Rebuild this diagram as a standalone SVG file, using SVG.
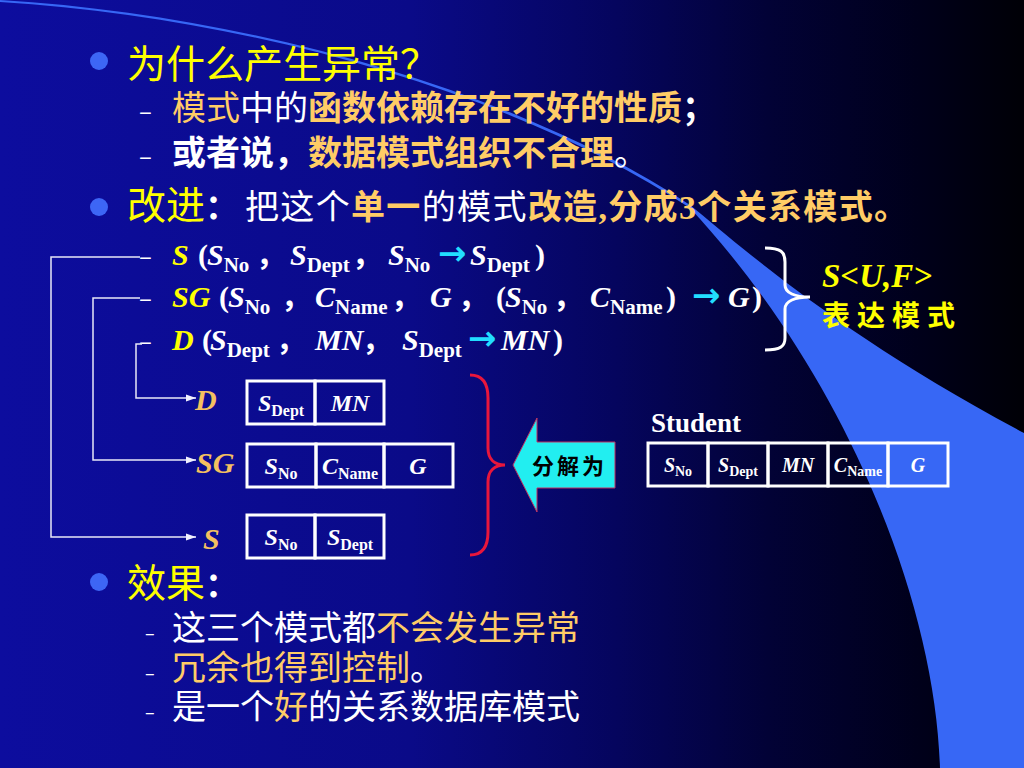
<svg xmlns="http://www.w3.org/2000/svg" width="1024" height="768" viewBox="0 0 1024 768">
<defs>
<linearGradient id="bg" x1="0" y1="0" x2="1" y2="0">
<stop offset="0" stop-color="#0d0d9e"/>
<stop offset="0.4" stop-color="#0a0a88"/>
<stop offset="0.6" stop-color="#05055e"/>
<stop offset="0.75" stop-color="#020236"/>
<stop offset="0.9" stop-color="#00001a"/>
<stop offset="1" stop-color="#000006"/>
</linearGradient>
<marker id="ah" viewBox="0 0 10 8" refX="10" refY="4" markerWidth="10" markerHeight="8" markerUnits="userSpaceOnUse" orient="auto">
<path d="M0,0.5 L10,4 L0,7.5 z" fill="#f0f0ff"/>
</marker>
<style>
.cjk{font-family:"Noto Sans CJK SC","Noto Sans",sans-serif}
.ser{font-family:"Liberation Serif","Noto Sans CJK SC",serif}
.y{fill:#ffff00}.o{fill:#ffcc66}.w{fill:#ffffff}.lab{fill:#f4c060}
.cy{fill:#22ddff;font-family:"DejaVu Sans",sans-serif;font-weight:bold;font-style:normal}
.b{font-weight:bold}.i{font-style:italic}
.bul{fill:#3d66f5}
.cell{fill:none;stroke:#ffffff;stroke-width:3}
.conn{fill:none;stroke:#e8e8f8;stroke-width:1.5}
.brace{fill:none;stroke-width:3}
</style>
</defs>
<rect x="0" y="0" width="1024" height="768" fill="url(#bg)"/>
<path d="M0,0 C250,15 520,92 690,205 C745,250 840,335 1024,433 L1024,768 L940,768 C935,600 845,375 690,208 C520,95 250,17 0,2 Z" fill="#3767f5"/>

<g id="q1">
<circle class="bul" cx="99" cy="61" r="9"/>
<text x="127" y="78" class="cjk y" font-size="39">为什么产生异常？</text>
</g>
<g id="q1a">
<text x="139" y="120" class="cjk w" font-size="24">–</text>
<text x="172" y="120" class="cjk" font-size="34"><tspan class="o">模式</tspan><tspan class="w">中的</tspan><tspan class="o b">函数依赖存在不好的性质</tspan><tspan class="w b">；</tspan></text>
</g>
<g id="q1b">
<text x="139" y="165" class="cjk w" font-size="24">–</text>
<text x="172" y="165" class="cjk" font-size="34"><tspan class="w b">或者说，</tspan><tspan class="o b">数据模式组织不合理</tspan><tspan class="w">。</tspan></text>
</g>
<g id="improve">
<circle class="bul" cx="99" cy="207" r="9"/>
<text y="219" class="cjk"><tspan x="127" class="y" font-size="39">改进</tspan><tspan class="w b" font-size="34">：</tspan></text>
<text x="245" y="219" class="cjk" font-size="34" textLength="663" lengthAdjust="spacing"><tspan class="w">把这个</tspan><tspan class="o b">单一</tspan><tspan class="w">的模式</tspan><tspan class="o b">改造</tspan><tspan class="o b ser">,</tspan><tspan class="o b">分成</tspan><tspan class="o b ser">3</tspan><tspan class="o b">个关系模式。</tspan></text>
</g>

<g id="schemaS">
<text x="139" y="265" class="cjk w" font-size="24">–</text>
<text class="ser b w" font-size="30">
<tspan x="172" y="265" class="y i">S</tspan><tspan x="198" y="265">(</tspan><tspan x="207" y="265" class="i">S</tspan><tspan y="272" font-size="21">No</tspan><tspan x="256" y="265">，</tspan><tspan x="290" y="265" class="i">S</tspan><tspan y="272" font-size="21">Dept</tspan><tspan x="352" y="265">，</tspan><tspan x="388" y="265" class="i">S</tspan><tspan y="272" font-size="21">No</tspan><tspan x="438" y="265" class="cy" font-size="34">→</tspan><tspan x="470" y="265" class="i">S</tspan><tspan y="272" font-size="21">Dept</tspan><tspan x="535" y="265">)</tspan>
</text>
</g>
<g id="schemaSG">
<text x="139" y="307" class="cjk w" font-size="24">–</text>
<text class="ser b w" font-size="30">
<tspan x="172" y="307" class="y i">SG</tspan><tspan x="219" y="307">(</tspan><tspan x="228" y="307" class="i">S</tspan><tspan y="314" font-size="21">No</tspan><tspan x="281" y="307">，</tspan><tspan x="315" y="307" class="i">C</tspan><tspan y="314" font-size="21">Name</tspan><tspan x="391" y="307">，</tspan><tspan x="430" y="307" class="i">G</tspan><tspan x="458" y="307">，</tspan><tspan x="496" y="307">(</tspan><tspan x="505" y="307" class="i">S</tspan><tspan y="314" font-size="21">No</tspan><tspan x="553" y="307">，</tspan><tspan x="590" y="307" class="i">C</tspan><tspan y="314" font-size="21">Name</tspan><tspan x="666" y="307">)</tspan><tspan x="692" y="307" class="cy" font-size="34">→</tspan><tspan x="728" y="307" class="i">G</tspan><tspan x="752" y="307">)</tspan>
</text>
</g>
<g id="schemaD">
<text x="139" y="350" class="cjk w" font-size="24">–</text>
<text class="ser b w" font-size="30">
<tspan x="172" y="350" class="y i">D</tspan><tspan x="202" y="350">(</tspan><tspan x="210" y="350" class="i">S</tspan><tspan y="357" font-size="21">Dept</tspan><tspan x="276" y="350">，</tspan><tspan x="315" y="350" class="i">MN</tspan><tspan x="362" y="350">，</tspan><tspan x="402" y="350" class="i">S</tspan><tspan y="357" font-size="21">Dept</tspan><tspan x="468" y="350" class="cy" font-size="34">→</tspan><tspan x="501" y="350" class="i">MN</tspan><tspan x="553" y="350">)</tspan>
</text>
</g>

<g id="suf">
<path class="brace" stroke="#ffffff" d="M765,248 C781,248 785,252 785,262 L785,285 C785,293 795,297 810,297 C795,297 785,301 785,309 L785,338 C785,346 781,350 765,350"/>
<text x="822" y="287" class="ser b i y" font-size="33">S&lt;U,F&gt;</text>
<text x="822" y="326" class="cjk b y" font-size="28" letter-spacing="7">表达模式</text>
</g>

<g id="connectors">
<path class="conn" d="M140,257 H51 V537 H196" marker-end="url(#ah)"/>
<path class="conn" d="M140,298 H93 V460 H196" marker-end="url(#ah)"/>
<path class="conn" d="M142,344 H136 V398 H196" marker-end="url(#ah)"/>
</g>

<g id="tableD">
<text x="195" y="410" class="ser b i lab" font-size="30">D</text>
<rect class="cell" x="247" y="381" width="68" height="43"/>
<rect class="cell" x="315" y="381" width="69" height="43"/>
<text x="281" y="411" text-anchor="middle" class="ser b w" font-size="24"><tspan class="i">S</tspan><tspan dy="5" font-size="16">Dept</tspan></text>
<text x="350" y="411" text-anchor="middle" class="ser b i w" font-size="24">MN</text>
</g>
<g id="tableSG">
<text x="196" y="473" class="ser b i lab" font-size="30">SG</text>
<rect class="cell" x="247" y="444" width="69" height="43"/>
<rect class="cell" x="316" y="444" width="68" height="43"/>
<rect class="cell" x="384" y="444" width="69" height="43"/>
<text x="281" y="474" text-anchor="middle" class="ser b w" font-size="24"><tspan class="i">S</tspan><tspan dy="5" font-size="16">No</tspan></text>
<text x="350" y="474" text-anchor="middle" class="ser b w" font-size="24"><tspan class="i">C</tspan><tspan dy="5" font-size="16">Name</tspan></text>
<text x="418" y="474" text-anchor="middle" class="ser b i w" font-size="24">G</text>
</g>
<g id="tableS">
<text x="203" y="549" class="ser b i lab" font-size="30">S</text>
<rect class="cell" x="247" y="515" width="68" height="43"/>
<rect class="cell" x="315" y="515" width="69" height="43"/>
<text x="281" y="545" text-anchor="middle" class="ser b w" font-size="24"><tspan class="i">S</tspan><tspan dy="5" font-size="16">No</tspan></text>
<text x="350" y="545" text-anchor="middle" class="ser b w" font-size="24"><tspan class="i">S</tspan><tspan dy="5" font-size="16">Dept</tspan></text>
</g>

<g id="redBrace">
<path class="brace" stroke="#e8163c" d="M470,375 C484,375 488,385 488,398 L488,448 C488,460 495,465 505,465 C495,465 488,470 488,482 L488,532 C488,545 484,555 470,555"/>
</g>

<g id="decompose">
<polygon points="513,465 537,418 537,442 615,442 615,488 537,488 537,512" fill="#22eef0" stroke="#c03060" stroke-width="1"/>
<text x="532" y="474" class="cjk b" font-size="22" letter-spacing="3" fill="#000000">分解为</text>
</g>

<g id="student">
<text x="651" y="432" class="ser b w" font-size="27">Student</text>
<rect class="cell" x="648" y="443" width="60" height="43"/>
<rect class="cell" x="708" y="443" width="60" height="43"/>
<rect class="cell" x="768" y="443" width="60" height="43"/>
<rect class="cell" x="828" y="443" width="60" height="43"/>
<rect class="cell" x="888" y="443" width="60" height="43"/>
<text x="678" y="472" text-anchor="middle" class="ser b w" font-size="20"><tspan class="i">S</tspan><tspan dy="4" font-size="14">No</tspan></text>
<text x="738" y="472" text-anchor="middle" class="ser b w" font-size="20"><tspan class="i">S</tspan><tspan dy="4" font-size="14">Dept</tspan></text>
<text x="798" y="472" text-anchor="middle" class="ser b i w" font-size="20">MN</text>
<text x="858" y="472" text-anchor="middle" class="ser b w" font-size="20"><tspan class="i">C</tspan><tspan dy="4" font-size="14">Name</tspan></text>
<text x="918" y="472" text-anchor="middle" class="ser b i w" font-size="20">G</text>
</g>

<g id="effect">
<circle class="bul" cx="99" cy="582" r="9"/>
<text y="597" class="cjk"><tspan x="127" class="y" font-size="39">效果</tspan><tspan class="w b" font-size="34">：</tspan></text>
</g>
<g id="effect1">
<text x="145" y="640" class="cjk w" font-size="18">–</text>
<text x="172" y="640" class="cjk" font-size="34"><tspan class="w">这三个模式都</tspan><tspan class="o">不会发生异常</tspan></text>
</g>
<g id="effect2">
<text x="145" y="680" class="cjk w" font-size="18">–</text>
<text x="172" y="680" class="cjk" font-size="34"><tspan class="o">冗余也得到控制</tspan><tspan class="w">。</tspan></text>
</g>
<g id="effect3">
<text x="145" y="719" class="cjk w" font-size="18">–</text>
<text x="172" y="719" class="cjk" font-size="34"><tspan class="w">是一个</tspan><tspan class="o">好</tspan><tspan class="w">的关系数据库模式</tspan></text>
</g>
</svg>
